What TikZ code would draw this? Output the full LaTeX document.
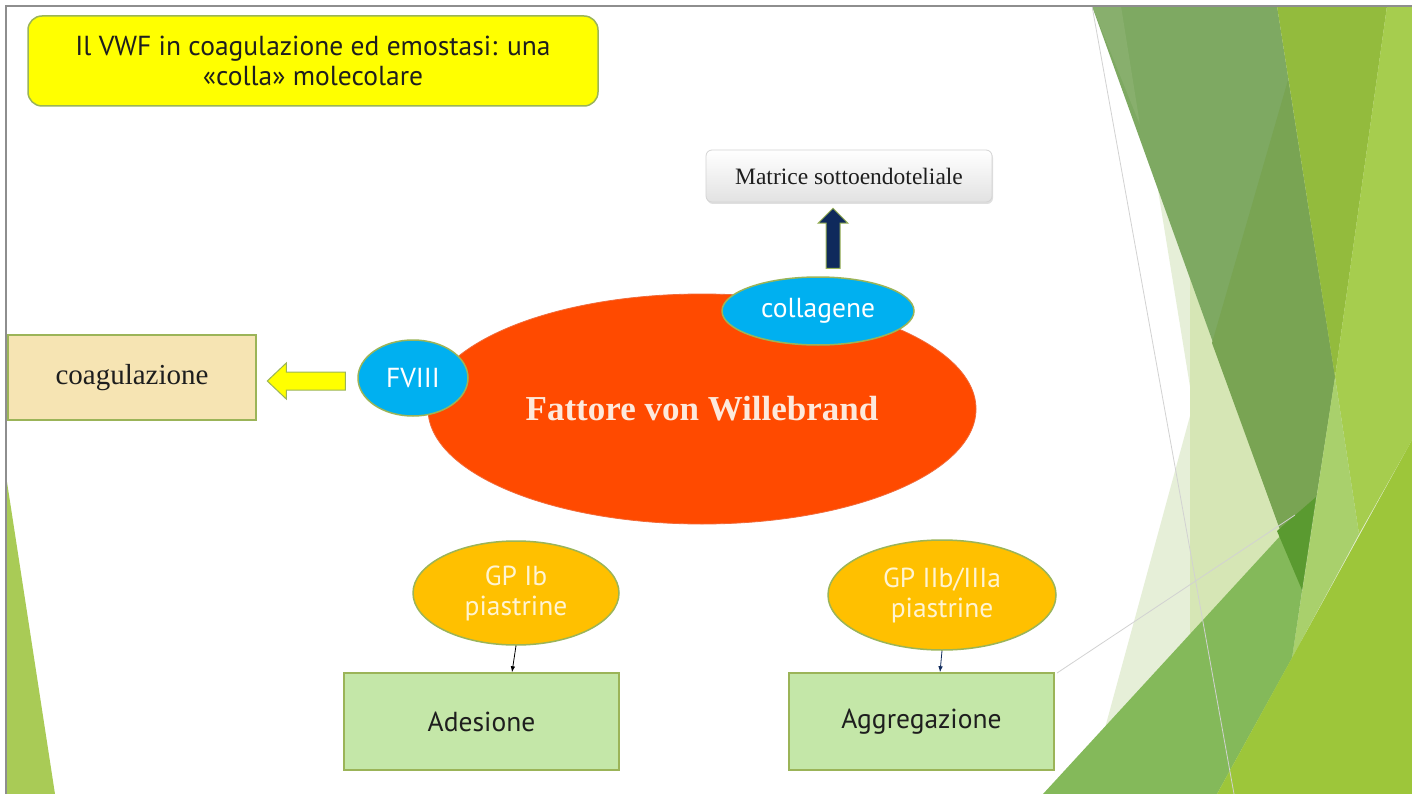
\documentclass[tikz,border=0pt]{standalone}
\usepackage{fontspec}
\setmainfont{Liberation Serif}
\setsansfont{PT Sans}
\usetikzlibrary{shapes.geometric,shadows,arrows.meta}

\definecolor{rim}{HTML}{9BB458}
\definecolor{titlefill}{HTML}{FFFF00}
\definecolor{coagfill}{HTML}{F6E4B3}
\definecolor{leaf}{HTML}{C4E7A8}
\definecolor{vwfred}{HTML}{FF4A00}
\definecolor{vwfrim}{HTML}{F06A3A}
\definecolor{vwftext}{HTML}{FDE9DC}
\definecolor{cyanblob}{HTML}{00B0F0}
\definecolor{amber}{HTML}{FFC000}
\definecolor{cream}{HTML}{FFF4D2}
\definecolor{navyarrow}{HTML}{0F2A5C}
\definecolor{matline}{HTML}{D4D4D4}
\definecolor{matbottom}{HTML}{E2E2E2}
\definecolor{darktext}{HTML}{1E1E1E}
\definecolor{frame}{HTML}{8E8E8E}
% facet colours
\definecolor{palel}{HTML}{E6EFD8}
\definecolor{palem}{HTML}{D6E6B5}
\definecolor{greena}{HTML}{7EA962}
\definecolor{greenastrip}{HTML}{88AF6D}
\definecolor{greenadark}{HTML}{79A453}
\definecolor{yband}{HTML}{93BB3D}
\definecolor{wcol}{HTML}{A6CD4E}
\definecolor{lightc}{HTML}{A9D06C}
\definecolor{greenb}{HTML}{84B95A}
\definecolor{darkg}{HTML}{5A9A30}
\definecolor{lime}{HTML}{9DC63A}
\definecolor{leftfacet}{HTML}{A9CB56}
\definecolor{hairline}{HTML}{D2D2D2}

\begin{document}
\begin{tikzpicture}[x=1pt,y=-1pt]
\tikzstyle{slidebox}=[rectangle,draw=rim,line width=1.5pt,inner sep=0pt]
\tikzstyle{blob}=[ellipse,draw=rim,line width=1.5pt,inner sep=0pt,align=center]
\tikzstyle{sans}=[font=\sffamily\fontsize{27.5}{30}\selectfont]
\tikzstyle{bigarrow}=[draw=rim,line width=1pt,line join=miter]
\tikzstyle{thinarrow}=[line width=0.8pt,-{Latex[length=6pt,width=4.5pt]}]

\useasboundingbox (0,0) rectangle (1412,794);
\fill[white] (0,0) rectangle (1412,794);

% background facets, back to front
\fill[palel] (1158,190) -- (1193,405) -- (1087,794) -- (1412,794) -- (1412,6) -- (1277,6) -- cycle;
\fill[palem] (1190,278) -- (1302,590) -- (1300,720) -- (1190,720) -- cycle;
\fill[greena] (1092,6) -- (1277,6) -- (1335,377) -- (1302,590) -- cycle;
\fill[greenastrip] (1092,6) -- (1121,6) -- (1140,125) -- cycle;
\fill[greenadark] (1288,80) -- (1335,377) -- (1302,590) -- (1212,343) -- cycle;
\fill[yband] (1277,6) -- (1387,6) -- (1335,377) -- cycle;
\fill[wcol] (1387,6) -- (1412,6) -- (1412,440) -- (1359,534) -- (1335,377) -- cycle;
\fill[lightc] (1335,377) -- (1359,534) -- (1292,658) -- cycle;
\fill[greenb] (1043,794) -- (1316,497) -- (1292,658) -- (1217,794) -- cycle;
\fill[darkg] (1277,531) -- (1316,497) -- (1302,590) -- cycle;
\fill[lime] (1217,794) -- (1412,440) -- (1412,794) -- cycle;
\draw[hairline,line width=0.8pt] (1092,6) -- (1234,794);
\draw[hairline,line width=0.8pt] (1057,673) -- (1295,515);
\fill[leftfacet] (7,482) -- (7,794) -- (55,794) -- cycle;
\draw[frame,line width=1.5pt] (6,794) -- (6,6) -- (1412,6);

\node[slidebox,sans,rounded corners=14pt,fill=titlefill,text=darktext,align=center,
      minimum width=570pt,minimum height=90pt] (title) at (313,61)
      {Il VWF in coagulazione ed emostasi: una\\«colla» molecolare};

\node[rectangle,rounded corners=6pt,draw=matline,line width=0.8pt,top color=white,bottom color=matbottom,
      drop shadow={opacity=0.25,shadow xshift=1pt,shadow yshift=-2pt},
      minimum width=286pt,minimum height=52pt,font=\fontsize{23.5}{28}\selectfont,text=darktext] (matrice) at (849,176) {Matrice sottoendoteliale};

\node[ellipse,fill=vwfred,draw=vwfrim,line width=0.8pt,inner sep=0pt,minimum width=548pt,minimum height=230pt,
      font=\bfseries\fontsize{35}{40}\selectfont,text=vwftext] (vwf) at (702,409) {Fattore von Willebrand};
\node[blob,sans,fill=cyanblob,text=white,minimum width=192pt,minimum height=68pt] (collagene) at (818,311) {collagene};
\node[blob,sans,fill=cyanblob,text=white,minimum width=110pt,minimum height=76pt] (fviii) at (413,378) {FVIII};

\node[slidebox,fill=coagfill,text=darktext,minimum width=248pt,minimum height=85pt,font=\fontsize{29}{34}\selectfont] (coag) at (132,377.5) {coagulazione};

\node[blob,sans,fill=amber,text=cream,minimum width=206pt,minimum height=104pt] (gpib) at (516,593) {GP Ib\\piastrine};
\node[blob,sans,fill=amber,text=cream,minimum width=228pt,minimum height=110pt] (gpiib) at (942,595) {GP IIb/IIIa\\piastrine};

\node[slidebox,sans,fill=leaf,text=darktext,minimum width=275pt,minimum height=97pt] (adesione) at (481.5,721.5) {Adesione};
\node[slidebox,sans,fill=leaf,text=darktext,minimum width=265pt,minimum height=97pt] (aggregazione) at (921.5,721.5) {Aggregazione};

% block arrows
\draw[bigarrow,fill=navyarrow] ([xshift=15pt,yshift=8pt]collagene.north) -- ++(7,0) -- ++(0,-45) -- ++(8,0)
      -- ++(-15,-15) -- ++(-15,15) -- ++(8,0) -- ++(0,45) -- cycle;
\draw[bigarrow,fill=titlefill] ([xshift=-12pt,yshift=-3pt]fviii.west) -- ++(0,-9) -- ++(-59,0) -- ++(0,-9)
      -- ++(-19,18) -- ++(19,18) -- ++(0,-9) -- ++(59,0) -- cycle;

\draw[thinarrow,black] (gpib.south) -- ([xshift=30.5pt]adesione.north);
\draw[thinarrow,navyarrow] (gpiib.south) -- ([xshift=18.5pt]aggregazione.north);
\end{tikzpicture}
\end{document}
